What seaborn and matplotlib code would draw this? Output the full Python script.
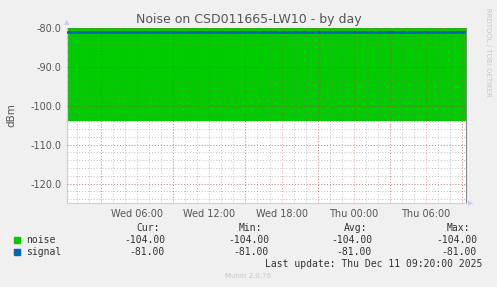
import numpy as np
import pandas as pd
import seaborn as sns
import matplotlib.pyplot as plt
import matplotlib.dates as mdates

# data
times = ["2025-12-10 00:10", "2025-12-11 09:20"]
noise = [-104.0, -104.0]
signal = [-81.0, -81.0]
series_names = ["noise", "signal"]
series_colors = ["#00CC00", "#0066B3"]
stats_cols = ["Cur:", "Min:", "Avg:", "Max:"]
noise_stats = ["-104.00", "-104.00", "-104.00", "-104.00"]
signal_stats = ["-81.00", "-81.00", "-81.00", "-81.00"]


def main():
    sns.set_style("white")
    plt.rcParams['font.family'] = ['DejaVu Sans']

    df = pd.DataFrame({"time": pd.to_datetime(times),
                       "noise": noise, "signal": signal})

    fig = plt.figure(figsize=(4.97, 2.87), dpi=100, facecolor="#F0F0F0")
    ax = fig.add_axes([67 / 497, 84 / 287, 399 / 497, 175 / 287])
    ax.set_facecolor("white")

    ax.fill_between(df["time"], df["noise"], 0, color=series_colors[0],
                    linewidth=0, zorder=1)
    sns.lineplot(data=df, x="time", y="signal", color=series_colors[1],
                 linewidth=2, ax=ax, zorder=4)

    ax.set_xlim(df["time"].iloc[0], df["time"].iloc[-1])
    ax.set_ylim(-125, -80)

    ax.xaxis.set_major_locator(mdates.HourLocator(byhour=[0, 6, 12, 18]))
    ax.xaxis.set_major_formatter(mdates.DateFormatter('%a %H:%M'))
    ax.xaxis.set_minor_locator(mdates.HourLocator())
    ax.set_yticks(np.arange(-120, -79, 10))
    ax.set_yticklabels([f"{v:.1f}" for v in np.arange(-120, -79, 10)])
    ax.set_yticks(np.arange(-124, -79, 2), minor=True)

    ax.grid(which="both", color="#707070", alpha=0.45,
            linestyle=(0, (1, 2)), linewidth=0.7, zorder=3)
    ax.grid(which="major", axis="x", visible=False)
    # major grid every 3 hours / 10 dB
    for t in pd.date_range("2025-12-10 03:00", "2025-12-11 09:00", freq="3h"):
        ax.axvline(t, color="#D03030", alpha=0.45, linestyle=(0, (1, 2)),
                   linewidth=0.7, zorder=3)
    for v in np.arange(-120, -79, 10):
        ax.axhline(v, color="#D03030", alpha=0.45, linestyle=(0, (1, 2)),
                   linewidth=0.7, zorder=3)
    ax.set_axisbelow(False)

    ax.tick_params(axis="both", which="both", length=0, labelsize=7,
                   labelcolor="#555555", pad=4)
    ax.set_xlabel("")
    ax.set_ylabel("dBm", fontsize=7.5, color="#555555", labelpad=10)

    ax.spines["top"].set_visible(False)
    ax.spines["left"].set_color("#C8D0F0")
    ax.spines["bottom"].set_color("#C8D0F0")
    ax.spines["right"].set_color("#888888")
    for s in ax.spines.values():
        s.set_linewidth(0.8)

    # axis arrows
    fig.text(67 / 497, 1 - 22 / 287, "\u25B2", fontsize=5, color="#C8D0F0",
             ha="center", va="center")
    fig.text(471 / 497, 1 - 203 / 287, "\u25B6", fontsize=5,
             color="#C8D0F0", ha="center", va="center")

    fig.text(249 / 497, 1 - 19 / 287, "Noise on CSD011665-LW10 - by day",
             fontsize=9, color="#555555", ha="center", va="center")
    fig.text(488 / 497, 1 - 52 / 287, "RRDTOOL / TOBI OETIKER", fontsize=5,
             color="#C8C8C8", rotation=270, ha="center", va="center")

    mono = "DejaVu Sans Mono"
    col_right = [165, 269, 372, 477]
    head_right = [160, 262, 367, 470]
    for x, h in zip(head_right, stats_cols):
        fig.text(x / 497, 1 - 228 / 287, h, family=mono, fontsize=7,
                 color="#333333", ha="right", va="center")
    for row, (name, color, vals) in enumerate(
            zip(series_names, series_colors, [noise_stats, signal_stats])):
        y = 1 - (240 + 12 * row) / 287
        fig.patches.append(plt.Rectangle((14 / 497, y - 3 / 287), 6 / 497,
                                         6 / 287, color=color,
                                         transform=fig.transFigure,
                                         figure=fig))
        fig.text(26 / 497, y, name, family=mono, fontsize=7, color="#333333",
                 ha="left", va="center")
        for x, v in zip(col_right, vals):
            fig.text(x / 497, y, v, family=mono, fontsize=7, color="#333333",
                     ha="right", va="center")
    fig.text(482 / 497, 1 - 264 / 287,
             "Last update: Thu Dec 11 09:20:00 2025", family=mono,
             fontsize=7, color="#333333", ha="right", va="center")
    fig.text(248 / 497, 1 - 276 / 287, "Munin 2.0.76", fontsize=5,
             color="#C8C8C8", ha="center", va="center")

    fig.savefig("out.png", dpi=100, facecolor=fig.get_facecolor())


if __name__ == "__main__":
    main()
